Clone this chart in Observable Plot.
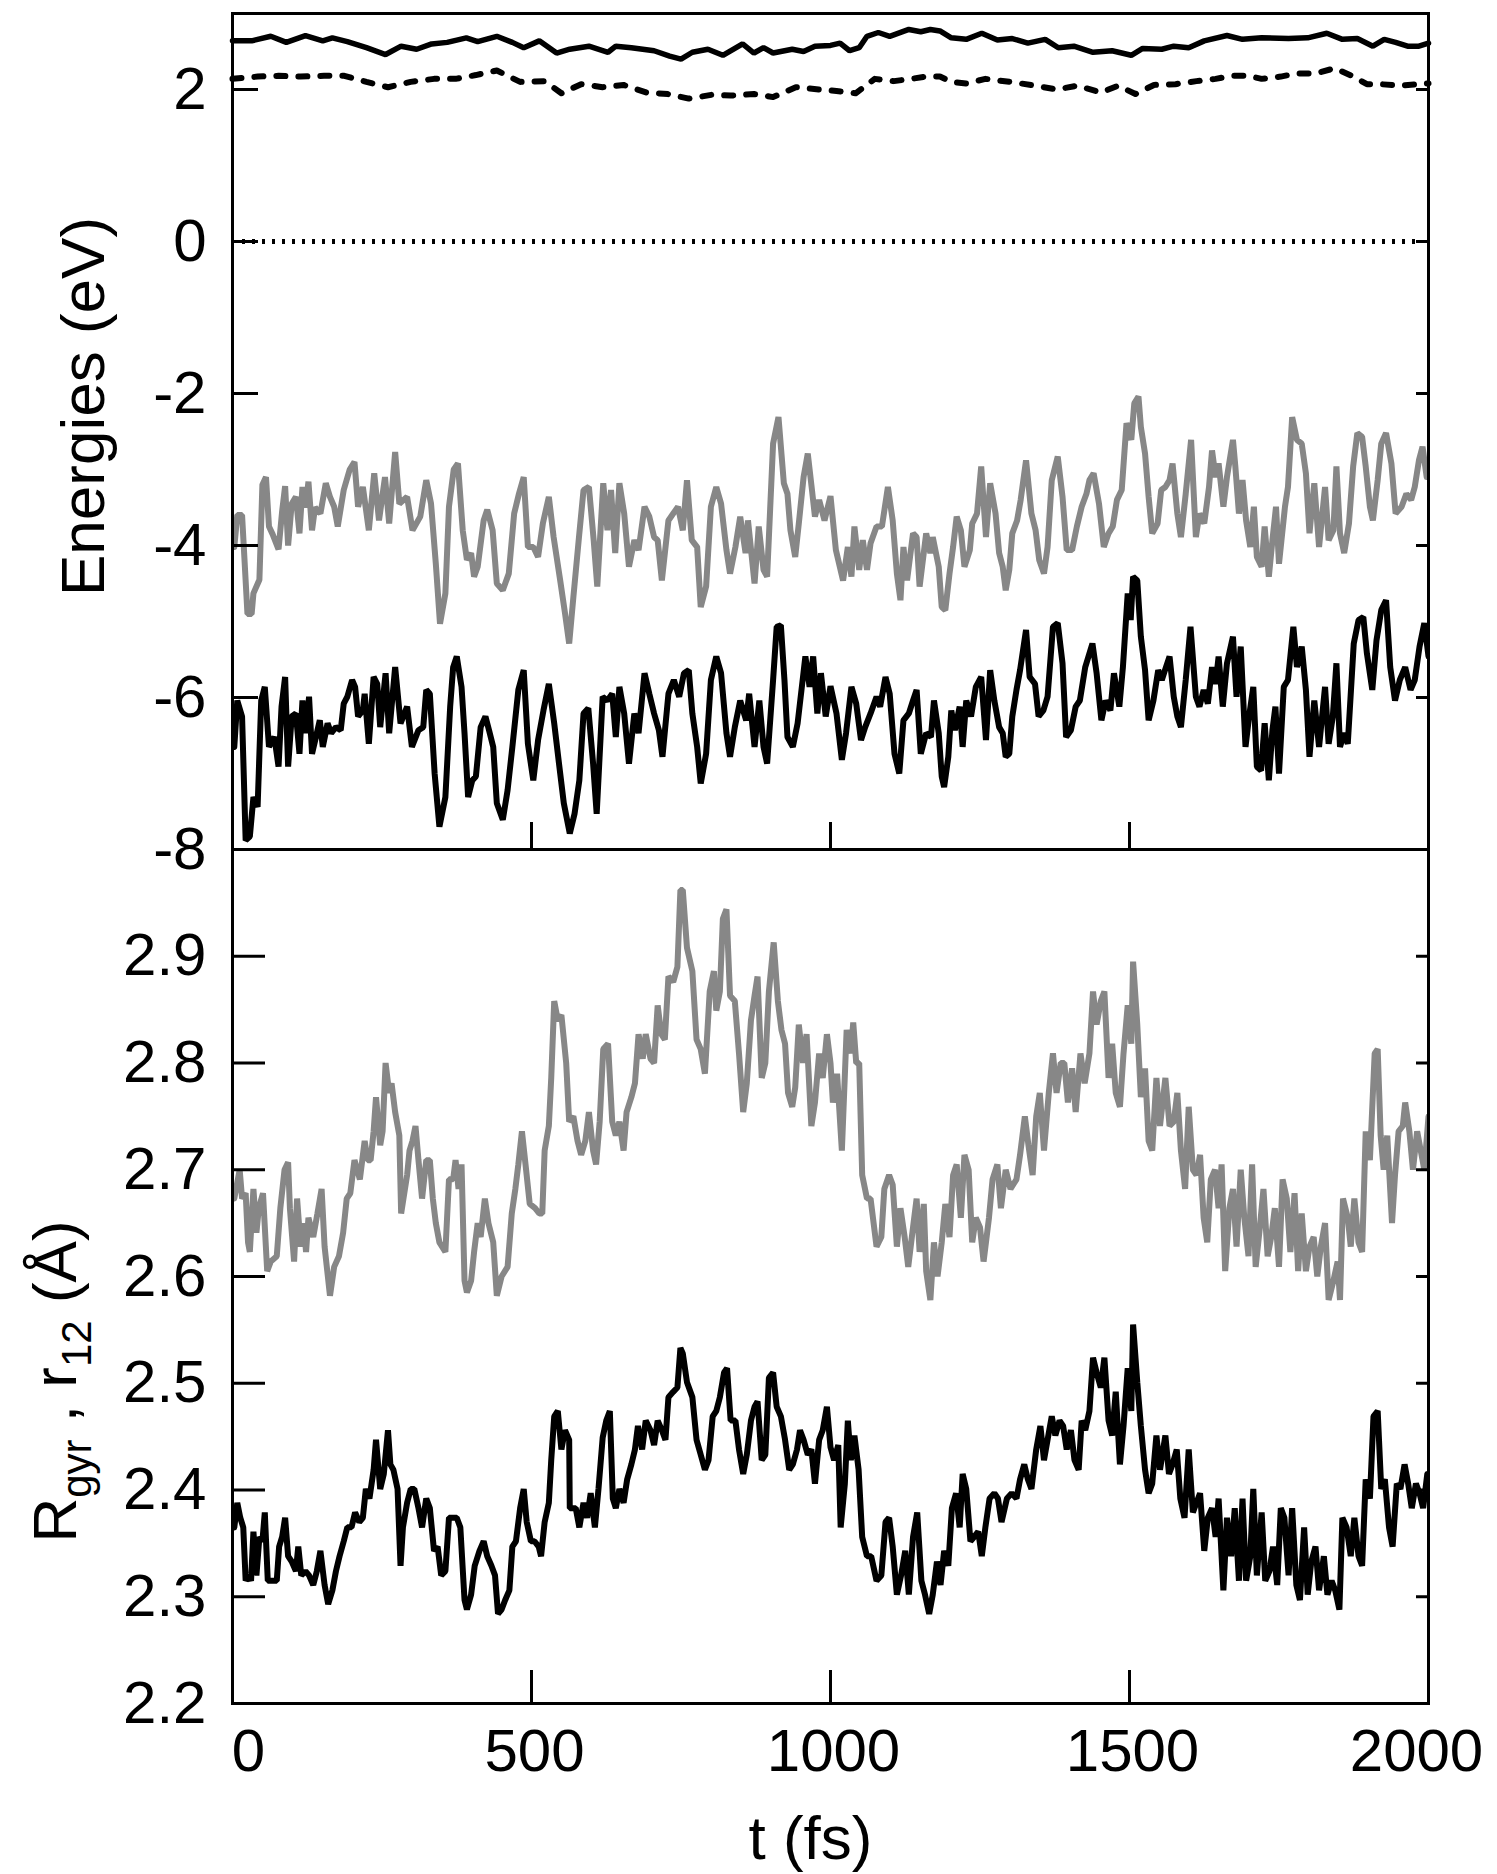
<!DOCTYPE html>
<html><head><meta charset="utf-8">
<script src="https://cdn.jsdelivr.net/npm/d3@7"></script>
<script src="https://cdn.jsdelivr.net/npm/@observablehq/plot@0.6"></script>
<style>
html,body{margin:0;padding:0;background:#fff;}
#chart{position:relative;width:1497px;height:1874px;background:#fff;}
#chart svg{position:absolute;left:0;background:transparent;}
</style></head><body><div id="chart"></div>
<script>
// ---------- data (t in fs, value) ----------
const energyUpper = [[0,2.64],[32,2.64],[64,2.70],[90,2.62],[122,2.71],[151,2.64],[167,2.68],[192,2.63],[224,2.55],[256,2.46],[282,2.57],[308,2.53],[333,2.60],[359,2.62],[391,2.68],[410,2.63],[442,2.70],[468,2.62],[487,2.55],[513,2.64],[542,2.48],[564,2.53],[596,2.57],[628,2.49],[641,2.57],[667,2.55],[705,2.51],[731,2.44],[750,2.40],[769,2.49],[795,2.53],[820,2.45],[853,2.60],[872,2.48],[888,2.55],[904,2.48],[936,2.53],[955,2.50],[974,2.57],[1000,2.58],[1016,2.61],[1032,2.51],[1048,2.55],[1061,2.70],[1080,2.75],[1099,2.70],[1131,2.79],[1151,2.76],[1167,2.79],[1183,2.77],[1202,2.68],[1227,2.66],[1253,2.74],[1279,2.65],[1304,2.67],[1330,2.61],[1359,2.66],[1381,2.55],[1407,2.57],[1439,2.49],[1471,2.51],[1503,2.45],[1522,2.54],[1554,2.53],[1574,2.57],[1599,2.55],[1625,2.64],[1663,2.71],[1689,2.66],[1721,2.68],[1766,2.67],[1798,2.68],[1830,2.74],[1856,2.66],[1881,2.67],[1907,2.57],[1926,2.66],[1945,2.62],[1965,2.57],[1984,2.57],[2000,2.61]];
const energyMiddle = [[0,2.14],[42,2.17],[77,2.18],[114,2.17],[153,2.18],[187,2.18],[224,2.10],[260,2.03],[298,2.10],[337,2.14],[373,2.14],[407,2.19],[442,2.25],[481,2.10],[522,2.11],[550,1.95],[583,2.07],[619,2.03],[654,2.06],[692,1.96],[728,1.94],[763,1.88],[801,1.93],[833,1.92],[872,1.94],[904,1.90],[942,2.03],[981,2.00],[1010,1.98],[1042,1.95],[1074,2.14],[1106,2.11],[1135,2.14],[1160,2.17],[1183,2.17],[1202,2.10],[1227,2.08],[1259,2.14],[1301,2.10],[1343,2.05],[1378,2.00],[1413,2.05],[1452,1.96],[1481,2.05],[1510,1.94],[1541,2.06],[1577,2.07],[1612,2.11],[1644,2.14],[1673,2.18],[1698,2.18],[1721,2.14],[1753,2.17],[1779,2.21],[1811,2.21],[1843,2.28],[1872,2.18],[1897,2.07],[1920,2.07],[1952,2.05],[1984,2.07],[2000,2.08]];
const energyZero = [0];
const energyGray = [[3,-4.02],[8,-3.6],[16,-3.6],[25,-4.9],[32,-4.9],[35,-4.63],[45,-4.45],[50,-3.2],[56,-3.1],[61,-3.75],[67,-3.85],[77,-4.05],[83,-3.55],[88,-3.22],[93,-4.0],[99,-3.45],[106,-3.36],[112,-3.84],[117,-3.23],[122,-3.5],[127,-3.16],[133,-3.8],[138,-3.5],[147,-3.58],[156,-3.18],[163,-3.36],[170,-3.49],[176,-3.75],[186,-3.27],[196,-3.0],[204,-2.9],[210,-3.49],[218,-3.23],[228,-3.8],[237,-3.05],[245,-3.67],[255,-3.1],[262,-3.71],[272,-2.77],[279,-3.45],[292,-3.36],[301,-3.8],[314,-3.62],[324,-3.14],[332,-3.45],[340,-4.24],[347,-5.03],[356,-4.63],[362,-3.49],[370,-3.0],[377,-2.92],[385,-3.8],[392,-4.19],[399,-4.1],[404,-4.41],[410,-4.28],[420,-3.67],[426,-3.53],[435,-3.8],[442,-4.5],[452,-4.59],[462,-4.37],[471,-3.58],[479,-3.32],[487,-3.1],[494,-4.02],[503,-4.02],[511,-4.15],[519,-3.71],[529,-3.36],[537,-3.89],[548,-4.46],[556,-4.89],[563,-5.29],[570,-4.68],[580,-3.84],[587,-3.27],[596,-3.23],[604,-3.93],[610,-4.54],[620,-3.18],[627,-3.8],[633,-3.27],[640,-4.1],[647,-3.18],[655,-3.58],[663,-4.28],[672,-3.93],[679,-4.06],[689,-3.49],[697,-3.62],[705,-3.89],[711,-3.93],[718,-4.46],[729,-3.67],[737,-3.58],[745,-3.49],[753,-3.8],[760,-3.14],[768,-3.93],[777,-4.02],[783,-4.81],[792,-4.54],[800,-3.49],[809,-3.23],[817,-3.45],[826,-4.06],[832,-4.37],[841,-4.02],[849,-3.62],[858,-4.1],[862,-3.67],[873,-4.5],[880,-3.75],[888,-4.32],[894,-4.41],[904,-2.66],[913,-2.31],[922,-3.18],[928,-3.32],[933,-3.8],[941,-4.15],[947,-3.71],[955,-3.1],[962,-2.79],[969,-3.27],[974,-3.62],[981,-3.4],[990,-3.67],[1000,-3.35],[1009,-4.06],[1021,-4.46],[1029,-4.02],[1035,-4.41],[1040,-3.75],[1048,-4.32],[1054,-3.93],[1061,-4.32],[1067,-3.97],[1077,-3.75],[1086,-3.75],[1096,-3.23],[1104,-3.67],[1111,-4.37],[1117,-4.72],[1122,-4.02],[1128,-4.46],[1138,-3.84],[1144,-3.89],[1149,-4.54],[1160,-3.84],[1167,-4.1],[1171,-3.89],[1181,-4.28],[1186,-4.81],[1192,-4.85],[1199,-4.37],[1205,-4.02],[1211,-3.62],[1218,-3.8],[1224,-4.28],[1233,-4.06],[1237,-3.71],[1245,-3.58],[1252,-2.96],[1260,-3.89],[1267,-3.18],[1276,-3.58],[1282,-4.1],[1288,-4.28],[1293,-4.59],[1299,-4.32],[1304,-3.84],[1312,-3.67],[1318,-3.4],[1327,-2.88],[1336,-3.58],[1343,-3.8],[1349,-4.19],[1357,-4.37],[1363,-4.02],[1370,-3.14],[1380,-2.83],[1388,-3.36],[1395,-4.06],[1404,-4.06],[1412,-3.75],[1420,-3.49],[1428,-3.32],[1433,-3.14],[1440,-3.05],[1449,-3.45],[1457,-4.02],[1465,-3.84],[1472,-3.75],[1479,-3.4],[1487,-3.27],[1495,-2.39],[1503,-2.61],[1508,-2.13],[1515,-2.04],[1519,-2.44],[1526,-2.79],[1532,-3.36],[1538,-3.84],[1547,-3.71],[1553,-3.27],[1560,-3.23],[1567,-3.14],[1572,-2.92],[1580,-3.58],[1586,-3.89],[1594,-3.32],[1603,-2.61],[1611,-3.89],[1617,-3.58],[1625,-3.71],[1633,-3.23],[1638,-2.75],[1644,-3.1],[1649,-2.92],[1657,-3.49],[1663,-3.1],[1673,-2.61],[1677,-2.96],[1683,-3.58],[1689,-3.14],[1695,-3.67],[1702,-4.02],[1708,-3.49],[1713,-4.15],[1721,-4.28],[1726,-3.75],[1733,-4.41],[1739,-3.93],[1745,-3.49],[1750,-4.24],[1760,-3.49],[1765,-3.23],[1772,-2.31],[1780,-2.61],[1788,-2.66],[1795,-3.05],[1801,-3.84],[1809,-3.18],[1817,-4.02],[1827,-3.23],[1833,-3.93],[1841,-3.8],[1846,-2.96],[1852,-3.84],[1859,-4.1],[1867,-3.71],[1874,-2.96],[1881,-2.52],[1889,-2.57],[1895,-2.96],[1902,-3.49],[1907,-3.67],[1915,-3.14],[1921,-2.66],[1929,-2.52],[1938,-2.92],[1945,-3.58],[1955,-3.49],[1963,-3.32],[1971,-3.4],[1977,-3.23],[1984,-2.88],[1990,-2.7],[1997,-3.1]];
const energyBlack = [[3,-6.65],[8,-6.04],[16,-6.25],[22,-7.88],[29,-7.83],[35,-7.31],[42,-7.44],[48,-6.04],[54,-5.86],[61,-6.65],[70,-6.52],[77,-6.91],[82,-6.12],[88,-5.73],[93,-6.91],[99,-6.25],[106,-6.21],[112,-6.74],[117,-6.04],[123,-6.47],[128,-5.99],[133,-6.74],[141,-6.47],[146,-6.3],[151,-6.65],[159,-6.34],[165,-6.47],[173,-6.39],[181,-6.43],[186,-6.08],[192,-5.99],[200,-5.77],[205,-5.86],[210,-6.25],[218,-6.17],[221,-5.95],[228,-6.61],[236,-5.73],[242,-5.82],[247,-6.39],[256,-5.68],[262,-6.47],[272,-5.6],[281,-6.34],[292,-6.12],[300,-6.65],[311,-6.43],[319,-6.39],[324,-5.9],[330,-5.95],[338,-7.0],[346,-7.7],[356,-7.31],[364,-6.12],[369,-5.6],[375,-5.46],[383,-5.86],[388,-6.47],[394,-7.31],[401,-7.09],[407,-7.04],[415,-6.39],[423,-6.25],[429,-6.43],[436,-6.65],[442,-7.39],[452,-7.61],[460,-7.22],[468,-6.65],[478,-5.9],[487,-5.64],[494,-6.61],[503,-7.09],[511,-6.56],[520,-6.17],[529,-5.82],[538,-6.34],[546,-6.87],[554,-7.39],[564,-7.79],[572,-7.53],[580,-7.09],[587,-6.21],[595,-6.14],[603,-6.87],[609,-7.53],[619,-5.99],[627,-6.04],[635,-5.95],[641,-6.52],[647,-5.86],[655,-6.21],[663,-6.87],[672,-6.21],[679,-6.47],[689,-5.68],[697,-5.95],[705,-6.21],[713,-6.43],[719,-6.78],[729,-5.95],[738,-5.77],[747,-5.99],[755,-5.68],[763,-5.64],[769,-6.21],[777,-6.65],[783,-7.13],[792,-6.74],[800,-5.77],[809,-5.46],[817,-5.68],[826,-6.47],[832,-6.78],[840,-6.39],[849,-6.04],[859,-6.3],[864,-5.95],[873,-6.65],[881,-6.04],[888,-6.65],[894,-6.87],[904,-5.77],[910,-5.07],[917,-5.05],[923,-5.77],[928,-6.52],[937,-6.65],[945,-6.34],[954,-5.73],[958,-5.46],[965,-5.86],[971,-5.46],[978,-6.21],[984,-5.68],[992,-6.25],[1000,-5.85],[1010,-6.21],[1019,-6.82],[1026,-6.47],[1035,-5.86],[1043,-6.08],[1051,-6.56],[1058,-6.39],[1067,-6.21],[1077,-5.99],[1083,-6.12],[1092,-5.73],[1099,-5.95],[1107,-6.74],[1115,-7.0],[1122,-6.3],[1131,-6.21],[1138,-6.04],[1144,-5.9],[1151,-6.74],[1160,-6.47],[1168,-6.52],[1173,-6.04],[1181,-6.47],[1186,-7.04],[1190,-7.18],[1197,-6.78],[1202,-6.17],[1208,-6.43],[1216,-6.12],[1221,-6.65],[1227,-6.04],[1235,-6.25],[1243,-5.86],[1252,-5.73],[1260,-6.56],[1267,-5.64],[1274,-6.04],[1282,-6.39],[1288,-6.47],[1293,-6.78],[1299,-6.74],[1304,-6.25],[1311,-5.9],[1317,-5.64],[1327,-5.11],[1333,-5.73],[1342,-5.82],[1348,-6.25],[1356,-6.17],[1363,-5.99],[1372,-5.07],[1380,-5.02],[1388,-5.55],[1394,-6.52],[1402,-6.43],[1410,-6.12],[1417,-6.04],[1426,-5.6],[1438,-5.29],[1445,-5.68],[1453,-6.3],[1460,-6.04],[1468,-6.17],[1474,-5.68],[1483,-6.12],[1489,-5.6],[1497,-4.63],[1502,-4.98],[1506,-4.41],[1513,-4.46],[1519,-5.2],[1526,-5.64],[1532,-6.3],[1540,-6.04],[1548,-5.64],[1554,-5.77],[1561,-5.6],[1567,-5.46],[1574,-5.99],[1580,-6.25],[1586,-6.39],[1594,-5.77],[1602,-5.07],[1611,-5.99],[1617,-6.12],[1624,-5.9],[1631,-6.08],[1638,-5.6],[1644,-5.82],[1649,-5.46],[1656,-6.12],[1663,-5.55],[1673,-5.2],[1679,-5.99],[1686,-5.33],[1694,-6.65],[1700,-6.25],[1707,-5.86],[1713,-6.91],[1720,-6.96],[1726,-6.34],[1733,-7.09],[1739,-6.43],[1744,-6.12],[1750,-7.0],[1758,-5.86],[1765,-5.77],[1774,-5.07],[1780,-5.6],[1788,-5.33],[1795,-5.9],[1801,-6.78],[1809,-6.04],[1817,-6.65],[1827,-5.86],[1833,-6.61],[1840,-6.25],[1846,-5.55],[1852,-6.65],[1859,-6.47],[1865,-6.61],[1875,-5.29],[1883,-4.98],[1891,-4.94],[1897,-5.42],[1906,-5.9],[1913,-5.25],[1921,-4.85],[1929,-4.72],[1936,-5.6],[1944,-6.04],[1952,-5.77],[1961,-5.6],[1970,-5.9],[1977,-5.77],[1985,-5.33],[1993,-5.02],[2000,-5.46]];
const radiusGray = [[3,2.673],[12,2.70],[16,2.673],[22,2.678],[26,2.632],[29,2.623],[35,2.682],[40,2.641],[44,2.664],[51,2.678],[58,2.605],[64,2.614],[74,2.619],[80,2.664],[87,2.70],[93,2.707],[96,2.664],[103,2.614],[108,2.673],[114,2.628],[119,2.65],[123,2.623],[127,2.655],[135,2.637],[142,2.659],[149,2.682],[154,2.628],[163,2.582],[170,2.609],[178,2.619],[185,2.641],[191,2.673],[197,2.678],[204,2.709],[213,2.691],[221,2.727],[226,2.709],[231,2.709],[236,2.736],[240,2.768],[247,2.723],[251,2.736],[256,2.80],[262,2.772],[266,2.781],[272,2.754],[279,2.732],[282,2.659],[292,2.695],[296,2.718],[301,2.727],[306,2.741],[311,2.709],[317,2.673],[324,2.709],[330,2.709],[335,2.673],[340,2.65],[346,2.632],[356,2.623],[362,2.691],[369,2.691],[373,2.709],[378,2.682],[383,2.705],[388,2.596],[392,2.585],[399,2.596],[404,2.623],[410,2.65],[415,2.637],[422,2.673],[428,2.65],[436,2.632],[442,2.582],[450,2.60],[460,2.609],[467,2.659],[473,2.682],[478,2.705],[484,2.736],[490,2.705],[497,2.668],[506,2.664],[513,2.659],[518,2.659],[522,2.718],[529,2.741],[533,2.786],[538,2.858],[544,2.84],[550,2.845],[558,2.80],[563,2.745],[570,2.75],[577,2.727],[583,2.714],[590,2.727],[596,2.754],[603,2.718],[608,2.705],[614,2.745],[620,2.813],[628,2.818],[635,2.745],[641,2.732],[647,2.745],[654,2.718],[659,2.754],[667,2.768],[673,2.781],[679,2.827],[686,2.804],[691,2.827],[699,2.804],[705,2.80],[711,2.854],[717,2.827],[723,2.822],[729,2.881],[737,2.876],[744,2.89],[749,2.962],[753,2.962],[760,2.908],[769,2.886],[776,2.822],[783,2.813],[790,2.79],[798,2.867],[805,2.886],[809,2.849],[815,2.867],[820,2.935],[826,2.944],[832,2.863],[840,2.858],[847,2.809],[854,2.754],[860,2.781],[867,2.84],[873,2.863],[878,2.881],[885,2.786],[891,2.80],[897,2.867],[905,2.913],[912,2.858],[918,2.831],[924,2.818],[929,2.772],[936,2.759],[941,2.777],[947,2.836],[954,2.80],[960,2.827],[968,2.741],[974,2.763],[981,2.809],[987,2.786],[994,2.827],[1000,2.80],[1004,2.763],[1011,2.79],[1019,2.718],[1027,2.831],[1034,2.809],[1038,2.838],[1043,2.80],[1048,2.80],[1053,2.695],[1061,2.673],[1067,2.673],[1077,2.628],[1085,2.637],[1090,2.682],[1098,2.695],[1104,2.686],[1111,2.628],[1117,2.664],[1124,2.637],[1130,2.609],[1138,2.646],[1144,2.673],[1149,2.623],[1156,2.668],[1160,2.605],[1167,2.578],[1173,2.632],[1179,2.60],[1186,2.632],[1192,2.668],[1199,2.637],[1205,2.695],[1211,2.705],[1218,2.655],[1224,2.714],[1231,2.70],[1237,2.632],[1243,2.655],[1250,2.646],[1256,2.614],[1265,2.655],[1271,2.691],[1279,2.705],[1285,2.664],[1293,2.70],[1301,2.682],[1311,2.691],[1317,2.714],[1325,2.75],[1331,2.723],[1338,2.695],[1344,2.75],[1350,2.772],[1357,2.718],[1365,2.772],[1372,2.809],[1378,2.772],[1385,2.80],[1391,2.80],[1397,2.763],[1404,2.795],[1410,2.754],[1418,2.809],[1425,2.781],[1433,2.809],[1439,2.867],[1445,2.836],[1452,2.858],[1458,2.867],[1465,2.786],[1471,2.818],[1477,2.772],[1484,2.759],[1490,2.809],[1497,2.854],[1503,2.818],[1506,2.895],[1513,2.836],[1519,2.768],[1526,2.795],[1532,2.727],[1538,2.718],[1545,2.786],[1551,2.741],[1560,2.786],[1567,2.741],[1574,2.745],[1580,2.772],[1586,2.718],[1593,2.682],[1599,2.759],[1606,2.70],[1612,2.695],[1618,2.714],[1624,2.655],[1630,2.632],[1636,2.691],[1643,2.70],[1649,2.664],[1654,2.705],[1660,2.605],[1667,2.664],[1673,2.682],[1679,2.628],[1686,2.70],[1692,2.655],[1699,2.619],[1705,2.705],[1711,2.609],[1718,2.646],[1724,2.682],[1731,2.619],[1737,2.637],[1743,2.664],[1750,2.609],[1756,2.691],[1763,2.673],[1769,2.623],[1776,2.678],[1782,2.605],[1788,2.659],[1795,2.605],[1801,2.628],[1808,2.637],[1814,2.60],[1820,2.628],[1827,2.65],[1833,2.578],[1841,2.596],[1848,2.614],[1852,2.578],[1857,2.673],[1865,2.655],[1870,2.628],[1876,2.673],[1883,2.632],[1889,2.623],[1895,2.736],[1902,2.709],[1910,2.809],[1915,2.813],[1920,2.732],[1925,2.70],[1931,2.732],[1939,2.65],[1944,2.695],[1950,2.736],[1957,2.741],[1961,2.763],[1968,2.736],[1974,2.70],[1981,2.736],[1987,2.718],[1993,2.70],[2000,2.75]];
const radiusBlack = [[3,2.365],[8,2.388],[13,2.374],[18,2.365],[22,2.315],[27,2.32],[31,2.315],[35,2.361],[40,2.32],[45,2.356],[50,2.352],[54,2.379],[59,2.315],[67,2.315],[74,2.315],[78,2.347],[83,2.356],[88,2.374],[93,2.338],[99,2.333],[106,2.324],[110,2.347],[115,2.32],[122,2.324],[128,2.32],[135,2.311],[141,2.324],[147,2.343],[154,2.311],[160,2.293],[167,2.306],[173,2.324],[179,2.338],[186,2.352],[192,2.365],[199,2.365],[205,2.379],[212,2.37],[218,2.374],[223,2.401],[229,2.392],[236,2.419],[240,2.447],[247,2.401],[253,2.415],[260,2.456],[264,2.424],[269,2.419],[276,2.401],[281,2.329],[285,2.365],[292,2.388],[298,2.401],[304,2.401],[311,2.383],[317,2.365],[324,2.392],[330,2.383],[337,2.343],[343,2.347],[349,2.32],[356,2.324],[362,2.374],[369,2.374],[375,2.374],[381,2.365],[388,2.297],[392,2.288],[399,2.302],[405,2.329],[413,2.343],[420,2.352],[426,2.338],[433,2.329],[439,2.32],[444,2.284],[450,2.288],[456,2.297],[463,2.306],[468,2.347],[474,2.352],[481,2.383],[487,2.401],[492,2.37],[499,2.352],[505,2.352],[512,2.347],[516,2.338],[522,2.37],[529,2.388],[533,2.428],[538,2.469],[544,2.474],[550,2.438],[556,2.456],[563,2.447],[564,2.383],[574,2.383],[580,2.365],[587,2.388],[593,2.374],[599,2.397],[606,2.365],[612,2.401],[619,2.449],[625,2.465],[631,2.474],[636,2.392],[641,2.383],[647,2.401],[654,2.388],[660,2.41],[667,2.424],[673,2.438],[678,2.46],[685,2.438],[691,2.465],[699,2.456],[705,2.442],[711,2.465],[718,2.456],[724,2.447],[729,2.487],[737,2.492],[744,2.496],[749,2.533],[753,2.528],[760,2.501],[769,2.487],[776,2.447],[783,2.433],[790,2.419],[796,2.428],[803,2.469],[809,2.474],[815,2.487],[822,2.51],[827,2.514],[833,2.465],[841,2.465],[847,2.438],[854,2.415],[860,2.433],[867,2.465],[873,2.478],[878,2.483],[885,2.428],[891,2.433],[897,2.505],[904,2.51],[910,2.478],[917,2.469],[924,2.447],[931,2.419],[937,2.424],[944,2.438],[949,2.456],[955,2.447],[962,2.433],[968,2.438],[974,2.406],[981,2.447],[987,2.456],[994,2.478],[1000,2.44],[1006,2.428],[1013,2.442],[1017,2.365],[1024,2.406],[1029,2.465],[1034,2.428],[1040,2.451],[1047,2.419],[1053,2.356],[1061,2.338],[1068,2.338],[1077,2.315],[1085,2.32],[1092,2.37],[1098,2.374],[1104,2.347],[1111,2.302],[1118,2.32],[1125,2.343],[1131,2.302],[1138,2.356],[1145,2.379],[1152,2.315],[1158,2.302],[1165,2.284],[1171,2.302],[1178,2.333],[1184,2.311],[1190,2.343],[1197,2.329],[1203,2.383],[1210,2.397],[1216,2.365],[1221,2.415],[1227,2.401],[1234,2.352],[1240,2.356],[1247,2.361],[1253,2.338],[1259,2.365],[1266,2.392],[1274,2.397],[1280,2.392],[1286,2.37],[1295,2.392],[1303,2.397],[1311,2.392],[1317,2.41],[1324,2.424],[1330,2.41],[1336,2.401],[1344,2.438],[1351,2.46],[1357,2.428],[1363,2.447],[1370,2.469],[1376,2.451],[1383,2.465],[1389,2.46],[1395,2.438],[1402,2.456],[1408,2.428],[1415,2.419],[1420,2.465],[1426,2.456],[1433,2.474],[1439,2.524],[1445,2.51],[1452,2.496],[1458,2.524],[1465,2.465],[1471,2.451],[1477,2.492],[1484,2.424],[1490,2.46],[1497,2.514],[1503,2.474],[1506,2.555],[1513,2.501],[1519,2.46],[1526,2.419],[1532,2.397],[1538,2.406],[1545,2.451],[1551,2.419],[1560,2.451],[1566,2.415],[1572,2.424],[1579,2.438],[1585,2.392],[1592,2.374],[1599,2.438],[1606,2.379],[1612,2.388],[1618,2.397],[1625,2.343],[1631,2.374],[1638,2.383],[1644,2.356],[1649,2.392],[1657,2.306],[1663,2.374],[1670,2.338],[1676,2.383],[1683,2.315],[1689,2.392],[1695,2.315],[1702,2.338],[1707,2.401],[1713,2.32],[1721,2.379],[1727,2.315],[1734,2.324],[1740,2.347],[1747,2.311],[1753,2.383],[1759,2.374],[1766,2.32],[1772,2.383],[1779,2.311],[1785,2.297],[1792,2.365],[1798,2.302],[1804,2.333],[1811,2.347],[1817,2.306],[1825,2.338],[1831,2.302],[1838,2.315],[1844,2.306],[1851,2.288],[1856,2.374],[1863,2.365],[1870,2.338],[1876,2.374],[1883,2.338],[1889,2.329],[1895,2.41],[1902,2.392],[1908,2.469],[1915,2.474],[1921,2.401],[1927,2.41],[1934,2.365],[1940,2.347],[1947,2.406],[1953,2.401],[1960,2.424],[1966,2.406],[1972,2.383],[1979,2.406],[1985,2.397],[1991,2.383],[1998,2.415]];

// ---------- ticks and labels ----------
const timeDomain = [0, 2000];
const timeTickMarks = [500, 1000, 1500];
const timeTickLabelsMid = [500, 1000, 1500];
const timeTickLabelFirst = [0];
const timeTickLabelLast = [2000];
const energyDomain = [-8, 3];
const energyTickMarks = [2, 0, -2, -4, -6];
const energyTickLabels = [2, 0, -2, -4, -6, -8];
const radiusDomain = [2.2, 3.0];
const radiusTickMarks = [2.3, 2.4, 2.5, 2.6, 2.7, 2.8, 2.9];
const radiusTickLabels = [2.2, 2.3, 2.4, 2.5, 2.6, 2.7, 2.8, 2.9];
const energyTitle = "Energies (eV)";
const timeTitle = "t (fs)";
const radiusTitleParts = [["R", false], ["gyr", true], [" , r", false], ["12", true], [" (Å)", false]];
const radiusTitle = radiusTitleParts.map(p => p[0]).join("");

// ---------- layout ----------
const W = 1497, mL = 232, mR = 69;
const plotW = W - mL - mR;
const font = "'Liberation Sans', Arial, Helvetica, sans-serif";
const GRAY = "#878787";
const LW = 6;
const pt = {x: d => d[0], y: d => d[1]};

const topH = 862, topMT = 13, topMB = 13;
const topPlotH = topH - topMT - topMB;

const topChart = Plot.plot({
  width: W, height: topH,
  marginTop: topMT, marginBottom: topMB, marginLeft: mL, marginRight: mR,
  style: {fontFamily: font, fontSize: "60px", background: "transparent", overflow: "visible", color: "black"},
  x: {domain: timeDomain, axis: null},
  y: {domain: energyDomain, axis: null},
  marks: [
    Plot.ruleY(energyZero, {stroke: "black", strokeWidth: 5, strokeDasharray: "3,7", insetLeft: 10, insetRight: 10}),
    Plot.line(energyUpper, {...pt, stroke: "black", strokeWidth: 5.5, strokeLinejoin: "miter"}),
    Plot.line(energyMiddle, {...pt, stroke: "black", strokeWidth: 6, strokeDasharray: "9,13"}),
    Plot.line(energyGray, {...pt, stroke: GRAY, strokeWidth: LW, strokeLinejoin: "miter", clip: true}),
    Plot.line(energyBlack, {...pt, stroke: "black", strokeWidth: LW, strokeLinejoin: "miter", clip: true}),
    Plot.tickY(energyTickMarks, {y: d => d, stroke: "black", strokeWidth: 3, insetRight: plotW - 26}),
    Plot.tickY(energyTickMarks, {y: d => d, stroke: "black", strokeWidth: 3, insetLeft: plotW - 12}),
    Plot.tickX(timeTickMarks, {x: d => d, stroke: "black", strokeWidth: 3, insetTop: topPlotH - 27}),
    Plot.axisY({ticks: energyTickLabels, tickSize: 0, tickPadding: 26, fontSize: 60, label: null, tickFormat: d => String(d)}),
    Plot.text([energyTitle], {text: d => d, frameAnchor: "left", textAnchor: "middle", rotate: -90, dx: -148, dy: -25, fontSize: 62}),
    Plot.frame({stroke: "black", strokeWidth: 3})
  ]
});

const botTop = 836, botH = 1874 - botTop, botMT = 13, botPlotH = 854;
const botMB = botH - botMT - botPlotH;

const bottomChart = Plot.plot({
  width: W, height: botH,
  marginTop: botMT, marginBottom: botMB, marginLeft: mL, marginRight: mR,
  style: {fontFamily: font, fontSize: "60px", background: "transparent", overflow: "visible", color: "black"},
  x: {domain: timeDomain},
  y: {domain: radiusDomain},
  marks: [
    Plot.line(radiusGray, {...pt, stroke: GRAY, strokeWidth: LW, strokeLinejoin: "miter", clip: true}),
    Plot.line(radiusBlack, {...pt, stroke: "black", strokeWidth: LW, strokeLinejoin: "miter", clip: true}),
    Plot.tickY(radiusTickMarks, {y: d => d, stroke: "black", strokeWidth: 3, insetRight: plotW - 33}),
    Plot.tickY(radiusTickMarks, {y: d => d, stroke: "black", strokeWidth: 3, insetLeft: plotW - 12}),
    Plot.tickX(timeTickMarks, {x: d => d, stroke: "black", strokeWidth: 3, insetTop: botPlotH - 33}),
    Plot.axisY({ticks: radiusTickLabels, tickSize: 0, tickPadding: 26, fontSize: 60, label: null, tickFormat: d => d.toFixed(1)}),
    Plot.axisX({ticks: timeTickLabelsMid, tickSize: 0, tickPadding: 25, dx: 3, fontSize: 60, label: null, tickFormat: d => String(d)}),
    Plot.axisX({ticks: timeTickLabelFirst, tickSize: 0, tickPadding: 25, dx: 16, fontSize: 60, label: null, tickFormat: d => String(d)}),
    Plot.axisX({ticks: timeTickLabelLast, tickSize: 0, tickPadding: 25, dx: -12, fontSize: 60, label: null, tickFormat: d => String(d)}),
    Plot.text([timeTitle], {text: d => d, frameAnchor: "bottom", lineAnchor: "bottom", dx: -20, dy: 155, fontSize: 62}),
    Plot.text([radiusTitle], {text: d => d, frameAnchor: "left", textAnchor: "middle", rotate: -90, dx: -176, dy: 105, fontSize: 62}),
    Plot.frame({stroke: "black", strokeWidth: 3})
  ]
});

// subscripts in the R_gyr , r_12 label
d3.select(bottomChart).selectAll("text").each(function () {
  if (this.textContent === radiusTitle) {
    const t = d3.select(this);
    t.text(null);
    let sub = false;
    radiusTitleParts.forEach(([s, isSub]) => {
      const sp = t.append("tspan").text(s);
      if (isSub && !sub) { sp.attr("dy", 15).attr("font-size", 42); sub = true; }
      else if (isSub) { sp.attr("font-size", 42); }
      else if (!isSub && sub) { sp.attr("dy", -15); sub = false; }
    });
  }
});

const holder = document.getElementById("chart");
topChart.style.top = "0px";
bottomChart.style.top = botTop + "px";
holder.appendChild(topChart);
holder.appendChild(bottomChart);
</script></body></html>
